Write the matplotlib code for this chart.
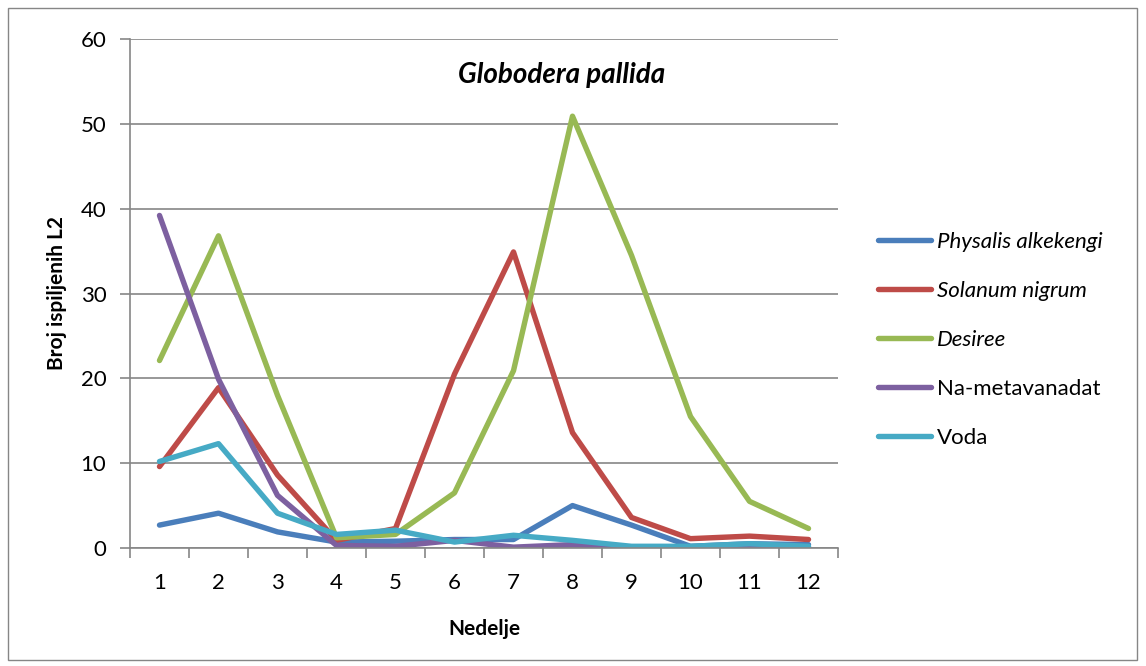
import numpy as np
import matplotlib.pyplot as plt
from matplotlib.patches import Rectangle

plt.rcParams['font.family'] = ['Lato', 'DejaVu Sans']

weeks = list(range(1, 13))
physalis = [2.7, 4.1, 1.9, 0.7, 0.8, 1.0, 1.0, 5.0, 2.7, 0.2, 0.5, 0.4]
solanum = [9.6, 18.9, 8.6, 0.9, 2.3, 20.5, 34.9, 13.6, 3.6, 1.1, 1.4, 1.0]
desiree = [22.1, 36.8, 18.0, 1.2, 1.6, 6.5, 20.9, 50.9, 34.5, 15.5, 5.5, 2.3]
metavanadat = [39.2, 19.9, 6.2, 0.3, 0.2, 0.9, 0.1, 0.4, 0.1, 0.1, 0.1, 0.1]
voda = [10.2, 12.3, 4.1, 1.6, 2.1, 0.7, 1.5, 0.9, 0.2, 0.2, 0.5, 0.2]

series = [
    ("Physalis alkekengi", physalis, "#4A7EBB", "italic"),
    ("Solanum nigrum", solanum, "#BE4B48", "italic"),
    ("Desiree", desiree, "#98B954", "italic"),
    ("Na-metavanadat", metavanadat, "#7D60A0", "normal"),
    ("Voda", voda, "#46AAC5", "normal"),
]

fig = plt.figure(figsize=(11.46, 6.66), dpi=100)
ax = fig.add_axes([130 / 1146, 1 - 548 / 666, (838 - 130) / 1146, (548 - 39) / 666])

fig.patches.append(Rectangle((8 / 1146, 6 / 666), 1129 / 1146, 652 / 666,
                             transform=fig.transFigure, fill=False,
                             edgecolor="#868686", linewidth=1))

for name, vals, color, style in series:
    ax.plot(weeks, vals, color=color, linewidth=3.9, solid_capstyle="round",
            solid_joinstyle="round", label=name)

ax.set_xlim(0.5, 12.5)
ax.set_ylim(0, 60)
ax.set_yticks(range(0, 61, 10))
ax.set_xticks(weeks)
ax.set_xticks(np.arange(0.5, 12.6, 1), minor=True)
ax.tick_params(axis="x", which="major", length=0, pad=18, labelsize=16)
ax.tick_params(axis="x", which="minor", length=7, color="#868686", width=1.2)
ax.tick_params(axis="y", length=7, color="#868686", width=1.2, labelsize=16, pad=10)
ax.grid(axis="y", color="#868686", linewidth=1.2)
ax.set_axisbelow(True)
for side in ["top", "right"]:
    ax.spines[side].set_visible(False)
for side in ["left", "bottom"]:
    ax.spines[side].set_color("#868686")
    ax.spines[side].set_linewidth(1.2)

ax.set_xlabel("Nedelje", fontsize=15, fontweight="bold", labelpad=19)
ax.set_ylabel("Broj ispiljenih L2", fontsize=15, fontweight="bold", labelpad=10)
ax.text(0.61, 0.93, "Globodera pallida", transform=ax.transAxes, ha="center",
        va="center", fontsize=20, fontweight="bold", fontstyle="italic")

leg = fig.legend(loc="center left", bbox_to_anchor=(858 / 1146, 1 - 340 / 666),
                 frameon=False, fontsize=16, labelspacing=1.3, handlelength=2.4,
                 handletextpad=0.25)
for text, (_, _, _, style) in zip(leg.get_texts(), series):
    text.set_fontstyle(style)

fig.savefig("out.png", dpi=100)
